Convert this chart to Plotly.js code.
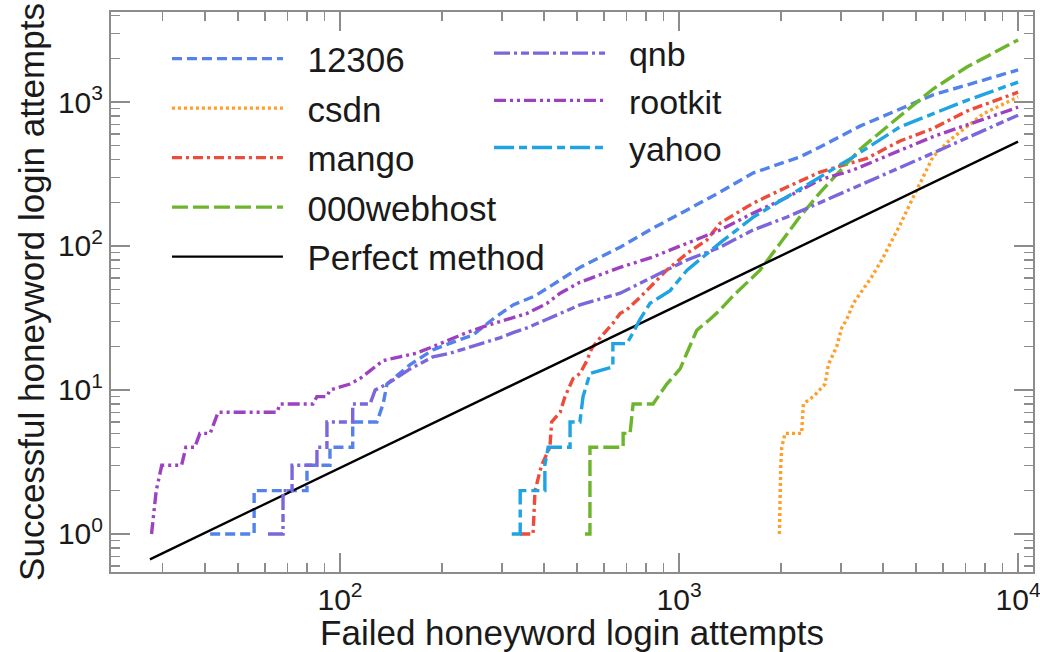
<!DOCTYPE html>
<html>
<head>
<meta charset="utf-8">
<script src="https://cdn.plot.ly/plotly-3.0.1.min.js"></script>
<style>
  html, body { margin: 0; padding: 0; background: #ffffff; }
  #chart { width: 1040px; height: 652px; }
</style>
</head>
<body>
<div id="chart"></div>
<script>
// Successful vs. failed honeyword login attempts for each leaked password dataset.

const x12306 = [41.4, 55.8, 55.8, 79.9, 79.9, 93.4, 93.4, 109, 109, 128.5, 134, 137.6, 161, 188, 221, 246, 282, 324, 376, 425, 510, 670, 838, 1056, 1321, 1652, 2274, 2605, 3418, 5613, 10000];
const y12306 = [1, 1, 2, 2, 3, 3, 4, 4, 6, 6, 8, 11, 15, 19, 22, 24, 31, 39, 45, 54, 71, 98, 133, 178, 237, 321, 416, 487, 680, 1120, 1670];

const xCsdn = [1977, 1985, 1995, 2009, 2054, 2299, 2326, 2490, 2697, 2757, 2917, 3019, 3125, 3268, 3498, 3700, 3963, 4484, 5024, 5613, 6293, 7063, 7909, 10000];
const yCsdn = [1, 2, 3, 4, 5, 5, 8, 9, 11, 15, 20, 27, 31, 40, 50, 61, 80, 140, 245, 417, 545, 672, 830, 1085];

const xMango = [340, 371, 376, 393, 416, 421, 446, 461, 487, 510, 535, 553, 585, 638, 670, 701, 767, 838, 920, 1056, 1208, 1321, 1652, 2083, 2605, 2924, 3582, 4484, 5613, 7063, 10000];
const yMango = [1, 1, 2, 3, 4, 6, 7, 9, 12, 13, 16, 19.5, 23, 29, 34, 36, 44, 54, 68, 89, 110, 144, 198, 257, 326, 354, 406, 536, 655, 865, 1170];

const xWebhost = [528, 546, 546, 684, 684, 717, 732, 838, 920, 1007, 1054, 1128, 1234, 1321, 1443, 1733, 1985, 2274, 2605, 2984, 3418, 4484, 5613, 7063, 10000];
const yWebhost = [1, 1, 4, 4, 5, 5, 8, 8, 11, 14, 18, 26, 31, 36, 45, 68, 104, 160, 235, 335, 470, 800, 1230, 1750, 2700];

const xQnb = [61.3, 67.9, 67.9, 72.2, 72.2, 85.5, 85.5, 91.5, 91.5, 109, 109, 122.6, 127, 137.6, 161, 188, 211, 246, 296, 324, 356, 408, 510, 670, 838, 1056, 1321, 1652, 2083, 2605, 3258, 5613, 10000];
const yQnb = [1, 1, 2, 2, 3, 3, 4, 4, 6, 6, 8, 8, 10, 11, 14, 17, 18, 20, 23, 25, 27, 31, 39, 47, 61, 80, 98, 129, 159, 199, 252, 442, 810];

const xRootkit = [27.8, 28.7, 29.8, 34.1, 35.1, 37.3, 38.6, 41.4, 43.7, 65.2, 66.5, 83.2, 85.5, 91.5, 93.4, 107, 114.5, 134, 150, 168, 188, 215, 236, 271, 310, 356, 408, 446, 510, 670, 838, 1056, 1321, 1652, 2083, 2605, 3258, 5613, 10000];
const yRootkit = [1, 2, 3, 3, 4, 4, 5, 5, 7, 7, 8, 8, 9, 9, 10, 11, 12, 16, 17, 18, 20, 23, 25, 28, 31, 34, 40, 47, 56, 71, 84, 105, 129, 169, 218, 288, 337, 574, 920];

const xYahoo = [321, 340, 340, 376, 402, 402, 411, 477, 477, 510, 521, 546, 638, 638, 701, 732, 767, 821, 941, 1056, 1321, 1652, 2083, 2605, 3258, 4484, 5613, 7063, 10000];
const yYahoo = [1, 1, 2, 2, 2, 3, 4, 4, 6, 6, 9, 13, 14.5, 21, 21, 25, 31, 40, 49, 68, 105, 158, 219, 300, 414, 672, 830, 1027, 1375];

// reference line for an ideal honeyword generator
const xPerfect = [27.5, 10000];
const yPerfect = [0.667, 530];

const xTickVals = [100, 1000, 10000];
const xTickText = ['10<sup>2</sup>', '10<sup>3</sup>', '10<sup>4</sup>'];
const yTickVals = [1, 10, 100, 1000];
const yTickText = ['10<sup>0</sup>', '10<sup>1</sup>', '10<sup>2</sup>', '10<sup>3</sup>'];

// 2..9 multiples of each power of ten, used for the minor ticks
function minorTicks(lo, hi) {
  const v = [];
  for (let p = lo; p <= hi; p++) {
    for (let m = 2; m <= 9; m++) v.push(m * Math.pow(10, p));
  }
  return v;
}

const FONT = 'Liberation Sans, Arial, Helvetica, sans-serif';
const AXIS_GREY = '#8c8c8c';
const PAD = '\u00a0\u00a0';

function series(name, x, y, color, dash, legendId, width) {
  return {
    type: 'scatter', mode: 'lines', name: PAD + name,
    x: x, y: y,
    line: { color: color, dash: dash, width: width || 3.4 },
    legend: legendId, legendgroup: name,
    hoverinfo: 'skip'
  };
}

const traces = [
  series('12306', x12306, y12306, '#5282ea', '10px,5px', 'legend'),
  series('csdn', xCsdn, yCsdn, '#ff9f2a', '3px,3px', 'legend'),
  series('mango', xMango, yMango, '#ee4c3b', '10px,4px,3px,4px', 'legend'),
  series('000webhost', xWebhost, yWebhost, '#6db52d', '16px,5px', 'legend'),
  series('Perfect method', xPerfect, yPerfect, '#000000', 'solid', 'legend', 2.4),
  series('qnb', xQnb, yQnb, '#7b66dc', '16px,4px,3px,4px,8px,4px', 'legend2'),
  series('rootkit', xRootkit, yRootkit, '#9d41c0', '12px,4px,3px,4px,3px,4px', 'legend2'),
  series('yahoo', xYahoo, yYahoo, '#1fa3e3', '20px,5px,8px,5px', 'legend2')
];

function axis(tickvals, ticktext, minorvals, range, title) {
  return {
    type: 'log', range: range, autorange: false,
    tickmode: 'array', tickvals: tickvals, ticktext: ticktext,
    ticks: 'inside', ticklen: 19, tickwidth: 1.5, tickcolor: AXIS_GREY,
    ticklabeloverflow: 'allow',
    showline: true, linecolor: AXIS_GREY, linewidth: 2, mirror: 'ticks',
    showgrid: false, zeroline: false,
    minor: { tickmode: 'array', tickvals: minorvals, ticks: 'inside', ticklen: 9, tickwidth: 1.5, tickcolor: AXIS_GREY, showgrid: false },
    tickfont: { family: FONT, size: 30, color: '#1a1a1a' },
    title: { text: title, font: { family: FONT, size: 35, color: '#1a1a1a' }, standoff: 3 }
  };
}

function legendStyle(size) {
  return {
    xanchor: 'left', yanchor: 'top',
    bgcolor: 'rgba(0,0,0,0)', borderwidth: 0,
    font: { family: FONT, size: size, color: '#1a1a1a' },
    itemwidth: 111, traceorder: 'grouped'
  };
}

const layout = {
  width: 1040, height: 652,
  margin: { l: 111, r: 7, t: 12, b: 80 },
  paper_bgcolor: '#ffffff', plot_bgcolor: '#ffffff',
  font: { family: FONT, size: 30, color: '#1a1a1a' },
  showlegend: true,
  xaxis: axis(xTickVals, xTickText, minorTicks(1, 3), [1.3245, 4.044], 'Failed honeyword login attempts'),
  yaxis: axis(yTickVals, yTickText, minorTicks(-1, 3), [-0.264, 3.625], 'Successful honeyword login attempts'),
  legend: Object.assign({ x: 0.0607, y: 0.969, tracegroupgap: 1 }, legendStyle(35)),
  legend2: Object.assign({ x: 0.41, y: 0.9776, tracegroupgap: 0 }, legendStyle(34))
};

Plotly.newPlot('chart', traces, layout, { displayModeBar: false, staticPlot: true });
</script>
</body>
</html>
